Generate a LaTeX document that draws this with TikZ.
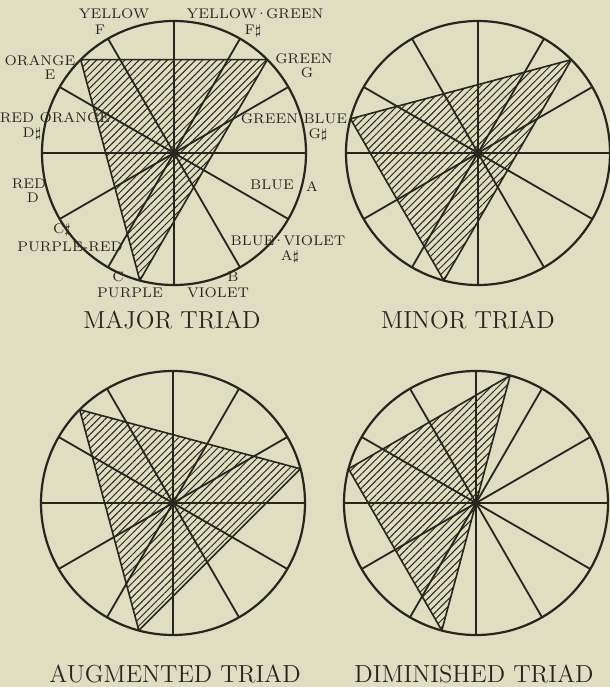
\documentclass[tikz,border=0pt]{standalone}
\usepackage{tikz}
\usetikzlibrary{calc, patterns.meta}
\definecolor{PaperCream}{RGB}{223, 222, 195}
\definecolor{InkBlack}{RGB}{38, 38, 26}

\begin{document}
\begin{tikzpicture}[x=0.5pt, y=0.5pt, line join=round,
        wheel/.style={InkBlack, line width=1.1pt},
        spoke/.style={InkBlack, line width=0.9pt},
        chord/.style={InkBlack, line width=0.8pt,
            pattern={Lines[angle=45, distance=2.5pt, line width=0.5pt]}, pattern color=InkBlack},
        note/.style={font=\fontsize{7}{8}\selectfont, text=InkBlack, inner sep=0pt},
        title/.style={font=\fontsize{12.3}{14}\selectfont, text=InkBlack, inner sep=0pt}]

        % Paper
        \fill[PaperCream] (0,0) rectangle (610,687);
        \useasboundingbox (0,0) rectangle (610,687);

        % Constants
        \def\rad{132}   % Wheel radius
        \def\mdot{\kern-0.8pt\textperiodcentered\kern-0.8pt}   % joining dot
        % Note angles (sector middles, clockwise chromatic)
        \def\noteC{-105}
        \def\noteDs{165}
        \def\noteE{135}
        \def\noteFs{75}
        \def\noteG{45}
        \def\noteGs{15}

        % Wheel centres
        \coordinate (MajorO) at (174,534);
        \coordinate (MinorO) at (478,534);
        \coordinate (AugO) at (173,184);
        \coordinate (DimO) at (476,184);

        % Define wheel command
        % #1: centre, #2-#4: angles of the three tones
        \newcommand{\drawWheel}[4]{
            \draw[chord] ($(#1)+(#2:\rad)$) -- ($(#1)+(#3:\rad)$) -- ($(#1)+(#4:\rad)$) -- cycle;
            \foreach \a in {0,30,...,330} {
                \draw[spoke] (#1) -- ++(\a:\rad);
            }
            \draw[wheel] (#1) circle (\rad);
        }

        % --- THE FOUR TRIADS ---
        \drawWheel{MajorO}{\noteC}{\noteE}{\noteG}
        \drawWheel{MinorO}{\noteC}{\noteDs}{\noteG}
        \drawWheel{AugO}{\noteC}{\noteE}{\noteGs}
        \drawWheel{DimO}{\noteC}{\noteDs}{\noteFs}

        % Colour names round the major wheel
        \foreach \nm/\px/\py/\txt in {
                Yellow/114/673/YELLOW, F/100/657/F,
                YellowGreen/255/673/YELLOW\mdot GREEN, Fs/253/656/F$\sharp$,
                Orange/40/626/ORANGE, E/50/612/E,
                Green/304/628/GREEN, G/307/614/G,
                RedOrange/55/569/RED ORANGE, Ds/32/553/D$\sharp$,
                GreenBlue/294/568/GREEN BLUE, Gs/318/552/G$\sharp$,
                Red/29/503/RED, D/33/489/D,
                Blue/272/502/BLUE, A/312/500/A,
                Cs/62/457/C$\sharp$, PurpleRed/70/440/PURPLE-RED,
                BlueViolet/288/446/BLUE\mdot VIOLET, As/290/430/A$\sharp$,
                C/118/410/C, Purple/130/394/PURPLE,
                B/233/410/B, Violet/218/394/VIOLET} {
            \node[note] (Lbl\nm) at (\px,\py) {\txt};
        }

        % Titles
        \node[title] (TitleMajor) at (172,367) {MAJOR TRIAD};
        \node[title] (TitleMinor) at (468,367) {MINOR TRIAD};
        \node[title] (TitleAug) at (175,13) {AUGMENTED TRIAD};
        \node[title] (TitleDim) at (474,13) {DIMINISHED TRIAD};

\end{tikzpicture}
\end{document}
